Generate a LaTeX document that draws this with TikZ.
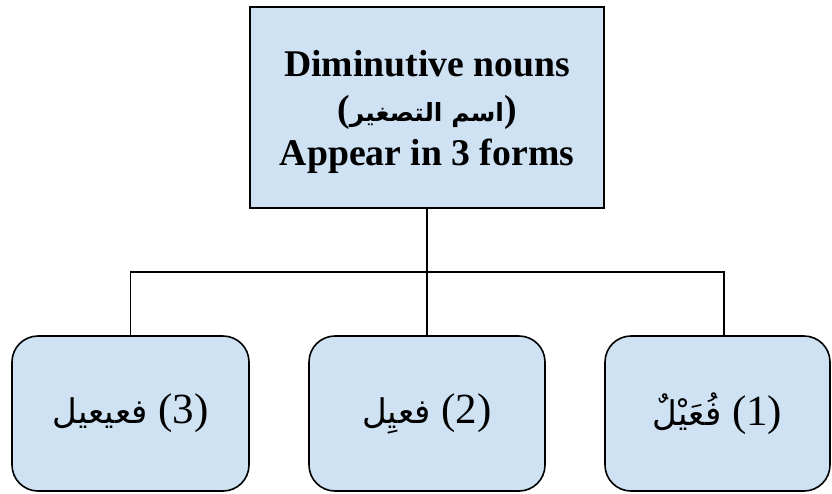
\documentclass[tikz,border=0pt]{standalone}
\usepackage{fontspec}
\setmainfont{Liberation Serif}
\newfontfamily\arabicfont[Script=Arabic]{DejaVu Sans}
\TeXXeTstate=1
\definecolor{boxblue}{HTML}{CFE2F3}

\begin{document}
\begin{tikzpicture}[x=1pt,y=-1pt,
  box/.style={draw=black, line width=1.6pt, fill=boxblue, inner sep=0pt, align=center},
  headbox/.style={box, minimum width=354pt, minimum height=201pt},
  headtext/.style={inner sep=0pt, align=center,
    font=\fontsize{37.7}{44.5}\selectfont\bfseries},
  leaf/.style={box, rounded corners=26pt, minimum height=155pt,
    font=\fontsize{43}{50}\selectfont},
  link/.style={draw=black, line width=1.6pt}]
\useasboundingbox (0,0) rectangle (832,493);

% main heading box and its three lines
\node[headbox] (top) at (427,107.5) {};
\node[headtext] (toptext) at (427,112)
  {Diminutive nouns\\
   ({\arabicfont\fontsize{25}{30}\selectfont\beginR اسم التصغير\endR})\\
   Appear in 3 forms};

% the three pattern boxes
\node[leaf, minimum width=237pt] (f3) at (130.5,413.5)
  {{\arabicfont\fontsize{34}{40}\selectfont\beginR فعيعيل\endR} (3)};
\node[leaf, minimum width=236pt] (f2) at (427,413.5)
  {{\arabicfont\fontsize{34}{40}\selectfont\beginR فعيِل\endR} (2)};
\node[leaf, minimum width=225pt] (f1) at (717.5,413.5)
  {{\arabicfont\fontsize{34}{40}\selectfont\beginR فُعَيْلٌ\endR} (1)};

% tree connectors
\coordinate (j) at (427,272);
\path (f1.north) ++(6.5,0) coordinate (r);
\draw[link] (top.south) -- (j);
\draw[link] (f3.north) |- (j);
\draw[link] (j) -- (f2.north);
\draw[link] (j) -| (r);
\end{tikzpicture}
\end{document}
